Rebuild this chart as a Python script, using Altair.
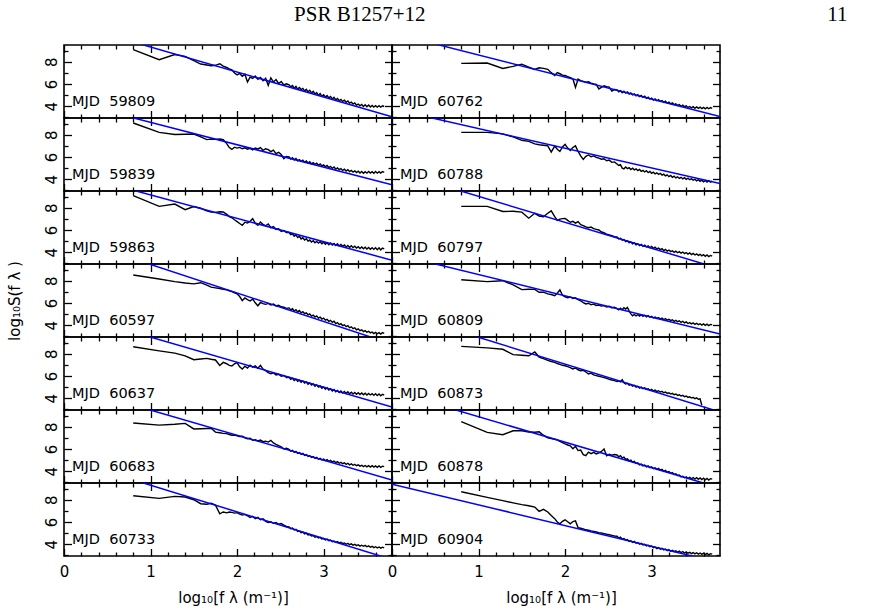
import altair as alt
import pandas as pd

# log10 of spatial frequency (m^-1) at which each spectrum is sampled
LOG_F = [
    0.80, 1.10, 1.28, 1.40, 1.50, 1.58, 1.65, 1.70, 1.75, 1.80, 1.84, 1.88, 1.91, 1.94, 1.97,
    2.00, 2.03, 2.06, 2.09, 2.12, 2.15, 2.18, 2.21, 2.24, 2.27, 2.30, 2.33, 2.36, 2.39, 2.42,
    2.45, 2.48, 2.51, 2.54, 2.57,
    2.60, 2.62, 2.64, 2.66, 2.68, 2.70, 2.72, 2.74, 2.76, 2.78, 2.80, 2.82, 2.84, 2.86, 2.88,
    2.90, 2.92, 2.94, 2.96, 2.98, 3.00, 3.02, 3.04, 3.06, 3.08, 3.10, 3.12, 3.14, 3.16, 3.18,
    3.20, 3.22, 3.24, 3.26, 3.28, 3.30, 3.32, 3.34, 3.36, 3.38, 3.40, 3.42, 3.44, 3.46, 3.48,
    3.50, 3.52, 3.54, 3.56, 3.58, 3.60, 3.62, 3.64, 3.66, 3.68, 3.70,
]

# log10 S(f_lambda) for each epoch
S_59809 = [
    9.08, 8.18, 8.65, 8.48, 8.10, 7.79, 7.70, 7.64, 7.68, 7.82, 7.60, 7.48, 7.36, 7.28, 6.98,
    6.82, 6.95, 6.70, 6.88, 6.18, 6.62, 6.50, 6.72, 6.42, 6.58, 6.30, 6.52, 5.88, 6.55, 6.18,
    6.40, 6.05, 6.22, 5.92, 6.02,
    5.92, 5.74, 5.86, 5.62, 5.78, 5.55, 5.68, 5.50, 5.60, 5.38, 5.52, 5.30, 5.44, 5.20, 5.34, 5.12,
    5.22, 5.00, 5.14, 4.90, 5.04, 4.84, 4.96, 4.76, 4.88, 4.66, 4.80, 4.58, 4.70, 4.50, 4.62, 4.44,
    4.54, 4.36, 4.48, 4.28, 4.38, 4.20, 4.30, 4.10, 4.20, 4.04, 4.16, 3.98, 4.14, 3.96, 4.12, 3.94,
    4.08, 3.94, 4.06, 3.92, 4.05, 3.92, 4.04, 3.98,
]
S_59839 = [
    9.05, 8.21, 8.02, 8.04, 8.06, 7.80, 7.56, 7.60, 7.58, 7.62, 7.55, 7.20, 6.85, 6.68, 6.88,
    6.80, 6.86, 6.74, 6.82, 6.70, 6.78, 6.64, 6.80, 6.72, 6.85, 6.60, 6.74, 6.66, 6.48, 6.62,
    6.30, 6.42, 6.22, 5.85, 6.05,
    6.00, 5.82, 5.94, 5.74, 5.86, 5.66, 5.76, 5.62, 5.72, 5.52, 5.64, 5.46, 5.58, 5.38, 5.50, 5.34,
    5.44, 5.26, 5.38, 5.20, 5.30, 5.12, 5.24, 5.06, 5.16, 4.98, 5.10, 4.92, 5.02, 4.86, 4.96, 4.80,
    4.90, 4.74, 4.86, 4.70, 4.80, 4.64, 4.76, 4.60, 4.72, 4.56, 4.70, 4.54, 4.68, 4.55, 4.70, 4.56,
    4.68, 4.54, 4.70, 4.55, 4.68, 4.56, 4.70, 4.62,
]
S_59863 = [
    9.08, 8.12, 8.33, 7.82, 8.10, 7.95, 7.72, 7.60, 7.58, 7.64, 7.62, 7.40, 7.20, 7.10, 6.92,
    6.75, 6.58, 6.42, 6.70, 6.62, 6.78, 7.02, 6.60, 6.42, 6.72, 6.50, 6.38, 6.55, 6.22, 6.30,
    6.05, 6.12, 5.88, 5.96, 5.78,
    5.78, 5.58, 5.66, 5.44, 5.56, 5.32, 5.44, 5.20, 5.30, 5.10, 5.22, 5.00, 5.10, 4.92, 5.04, 4.86,
    4.98, 4.82, 4.94, 4.76, 4.90, 4.72, 4.86, 4.68, 4.84, 4.66, 4.80, 4.62, 4.76, 4.58, 4.70, 4.54,
    4.66, 4.48, 4.62, 4.44, 4.58, 4.42, 4.54, 4.38, 4.50, 4.34, 4.48, 4.32, 4.46, 4.30, 4.44, 4.28,
    4.42, 4.26, 4.40, 4.24, 4.40, 4.22, 4.38, 4.30,
]
S_60597 = [
    8.51, 8.15, 7.92, 7.80, 7.72, 7.82, 7.60, 7.42, 7.36, 7.30, 7.22, 7.18, 7.10, 7.02, 6.92,
    6.82, 6.58, 6.22, 6.45, 6.30, 6.18, 6.35, 6.02, 5.75, 6.05, 5.95, 5.88, 5.96, 5.82, 5.90,
    5.74, 5.80, 5.66, 5.62, 5.52,
    5.56, 5.38, 5.48, 5.28, 5.40, 5.20, 5.32, 5.12, 5.22, 5.04, 5.12, 4.94, 5.02, 4.82, 4.92, 4.74,
    4.84, 4.64, 4.74, 4.56, 4.64, 4.46, 4.54, 4.36, 4.44, 4.26, 4.36, 4.16, 4.24, 4.06, 4.14, 3.96,
    4.04, 3.88, 3.96, 3.78, 3.86, 3.70, 3.78, 3.60, 3.68, 3.52, 3.60, 3.44, 3.52, 3.38, 3.46, 3.32,
    3.40, 3.26, 3.36, 3.24, 3.34, 3.22, 3.34, 3.28,
]
S_60637 = [
    8.63, 8.26, 8.05, 7.80, 7.46, 7.52, 7.58, 7.50, 7.44, 6.95, 7.22, 7.10, 6.96, 6.90, 7.10,
    7.20, 6.82, 6.62, 6.88, 6.72, 6.98, 6.80, 6.92, 6.70, 6.95, 6.62, 6.48, 6.30, 6.20, 6.28,
    6.10, 6.16, 5.98, 6.04, 5.86,
    5.88, 5.70, 5.80, 5.60, 5.72, 5.52, 5.62, 5.44, 5.56, 5.36, 5.46, 5.26, 5.38, 5.18, 5.28, 5.08,
    5.20, 5.00, 5.10, 4.90, 5.02, 4.82, 4.94, 4.74, 4.86, 4.66, 4.78, 4.58, 4.70, 4.52, 4.66, 4.48,
    4.62, 4.44, 4.58, 4.40, 4.54, 4.38, 4.52, 4.36, 4.50, 4.34, 4.48, 4.32, 4.46, 4.30, 4.44, 4.30,
    4.42, 4.26, 4.40, 4.24, 4.38, 4.22, 4.36, 4.28,
]
S_60683 = [
    8.33, 8.14, 8.22, 8.30, 7.80, 7.82, 7.84, 7.86, 7.52, 7.46, 7.40, 7.38, 7.30, 7.24, 7.26,
    7.18, 7.12, 7.14, 7.00, 6.92, 6.96, 6.78, 6.84, 6.72, 6.80, 6.66, 6.70, 6.62, 6.78, 6.55,
    6.42, 6.30, 6.20, 6.00, 6.06,
    5.96, 5.80, 5.88, 5.70, 5.78, 5.60, 5.68, 5.52, 5.60, 5.42, 5.50, 5.34, 5.40, 5.24, 5.32, 5.16,
    5.24, 5.08, 5.16, 5.02, 5.10, 4.96, 5.04, 4.90, 4.98, 4.84, 4.92, 4.78, 4.86, 4.72, 4.80, 4.68,
    4.76, 4.62, 4.72, 4.58, 4.66, 4.54, 4.62, 4.50, 4.58, 4.46, 4.54, 4.42, 4.52, 4.40, 4.50, 4.38,
    4.50, 4.38, 4.48, 4.36, 4.48, 4.36, 4.46, 4.42,
]
S_60733 = [
    8.36, 8.12, 8.30, 8.24, 8.00, 7.64, 7.60, 7.68, 7.52, 6.74, 6.90, 6.82, 6.90, 6.86, 6.80,
    6.84, 6.70, 6.62, 6.68, 6.56, 6.40, 6.50, 6.30, 6.42, 6.20, 6.28, 6.06, 5.96, 6.02, 5.88,
    5.96, 5.80, 5.86, 5.72, 5.60,
    5.56, 5.40, 5.46, 5.28, 5.34, 5.16, 5.20, 5.04, 5.10, 4.94, 5.00, 4.84, 4.88, 4.74, 4.78, 4.64,
    4.70, 4.56, 4.62, 4.48, 4.52, 4.40, 4.46, 4.32, 4.38, 4.24, 4.30, 4.18, 4.24, 4.12, 4.18, 4.06,
    4.12, 4.00, 4.08, 3.96, 4.04, 3.92, 4.00, 3.88, 3.96, 3.84, 3.92, 3.82, 3.90, 3.78, 3.86, 3.74,
    3.82, 3.70, 3.78, 3.68, 3.76, 3.66, 3.74, 3.68,
]
S_60762 = [
    7.85, 7.88, 7.40, 7.58, 7.78, 7.52, 7.30, 7.46, 7.40, 7.32, 7.02, 6.76, 7.02, 6.92, 6.80,
    6.76, 6.66, 6.56, 6.46, 5.70, 6.44, 6.30, 6.24, 6.16, 6.20, 6.08, 6.00, 5.96, 5.56, 5.70,
    5.84, 5.76, 5.72, 5.36, 5.50,
    5.48, 5.30, 5.40, 5.22, 5.36, 5.18, 5.28, 5.10, 5.20, 5.02, 5.12, 4.94, 5.04, 4.88, 4.98, 4.80,
    4.90, 4.72, 4.82, 4.64, 4.74, 4.56, 4.66, 4.50, 4.60, 4.44, 4.52, 4.36, 4.46, 4.28, 4.38, 4.22,
    4.30, 4.14, 4.22, 4.08, 4.16, 4.00, 4.10, 3.96, 4.04, 3.90, 3.98, 3.86, 3.96, 3.82, 3.94, 3.82,
    3.92, 3.80, 3.90, 3.78, 3.90, 3.78, 3.88, 3.82,
]
S_60788 = [
    8.21, 8.21, 8.08, 7.80, 7.50, 7.40, 7.18, 7.10, 7.06, 7.00, 6.44, 6.98, 6.70, 6.50, 6.90,
    7.14, 6.80, 6.58, 6.86, 7.00, 6.50, 6.10, 5.78, 6.06, 6.18, 6.02, 6.10, 5.96, 5.90, 5.80,
    5.84, 5.66, 5.72, 5.52, 5.56,
    5.38, 5.24, 5.32, 5.00, 4.94, 5.10, 4.96, 5.04, 4.88, 5.00, 4.84, 4.94, 4.78, 4.88, 4.72, 4.80,
    4.66, 4.78, 4.60, 4.70, 4.54, 4.64, 4.48, 4.58, 4.44, 4.54, 4.38, 4.46, 4.30, 4.40, 4.24, 4.34,
    4.18, 4.28, 4.12, 4.22, 4.08, 4.18, 4.04, 4.14, 4.00, 4.10, 3.96, 4.06, 3.92, 4.00, 3.86, 3.96,
    3.82, 3.92, 3.78, 3.90, 3.76, 3.88, 3.74, 3.84,
]
S_60797 = [
    8.12, 8.12, 7.66, 7.68, 7.60, 7.06, 7.50, 7.26, 7.18, 7.50, 7.72, 7.20, 6.86, 6.98, 7.02,
    7.04, 6.86, 6.70, 6.78, 6.62, 6.76, 6.48, 6.40, 6.28, 6.20, 6.26, 6.12, 6.06, 6.00, 5.82,
    5.76, 5.62, 5.56, 5.50, 5.40,
    5.38, 5.20, 5.26, 5.08, 5.14, 4.96, 5.02, 4.86, 4.92, 4.76, 4.84, 4.66, 4.76, 4.60, 4.70, 4.54,
    4.64, 4.48, 4.58, 4.42, 4.52, 4.36, 4.46, 4.30, 4.38, 4.24, 4.32, 4.16, 4.26, 4.10, 4.20, 4.06,
    4.14, 4.00, 4.10, 3.96, 4.06, 3.92, 4.02, 3.88, 3.98, 3.84, 3.94, 3.80, 3.90, 3.76, 3.86, 3.72,
    3.82, 3.68, 3.78, 3.64, 3.76, 3.62, 3.72, 3.66,
]
S_60809 = [
    8.09, 7.92, 8.00, 7.62, 7.20, 7.24, 7.22, 6.96, 6.98, 6.82, 6.76, 6.66, 6.88, 7.18, 6.70,
    6.56, 6.48, 6.54, 6.40, 6.46, 6.30, 6.20, 6.04, 5.92, 5.98, 5.84, 5.90, 5.78, 5.82, 5.72,
    5.76, 5.64, 5.70, 5.58, 5.62,
    5.50, 5.38, 5.54, 5.40, 5.58, 5.46, 5.60, 5.30, 5.02, 4.86, 4.98, 4.84, 4.96, 4.82, 4.94, 4.80,
    4.90, 4.76, 4.86, 4.72, 4.80, 4.66, 4.74, 4.62, 4.70, 4.56, 4.64, 4.52, 4.60, 4.46, 4.54, 4.42,
    4.50, 4.36, 4.44, 4.32, 4.40, 4.26, 4.36, 4.22, 4.30, 4.16, 4.24, 4.12, 4.22, 4.08, 4.18, 4.06,
    4.14, 4.02, 4.12, 4.00, 4.10, 3.98, 4.08, 4.04,
]
S_60873 = [
    8.66, 8.52, 8.40, 7.92, 7.86, 7.82, 8.16, 7.70, 7.56, 7.40, 7.30, 7.22, 7.12, 7.04, 6.96,
    6.92, 6.84, 6.76, 6.64, 6.72, 6.56, 6.48, 6.52, 6.36, 6.18, 6.26, 6.10, 6.04, 5.98, 5.92,
    5.86, 5.80, 5.70, 5.64, 5.58,
    5.50, 5.56, 5.48, 5.66, 5.40, 5.28, 5.34, 5.18, 5.24, 5.08, 5.16, 5.00, 5.08, 4.92, 5.00, 4.86,
    4.94, 4.80, 4.86, 4.72, 4.80, 4.66, 4.74, 4.60, 4.68, 4.56, 4.62, 4.50, 4.56, 4.44, 4.50, 4.38,
    4.44, 4.32, 4.38, 4.26, 4.32, 4.20, 4.26, 4.14, 4.20, 4.08, 4.14, 4.02, 4.08, 3.96, 4.04, 3.92,
    3.96, 3.38,
]
S_60878 = [
    8.45, 7.49, 7.28, 7.64, 7.64, 7.52, 7.50, 7.54, 7.24, 7.00, 6.94, 6.88, 6.82, 6.68, 6.58,
    6.46, 6.36, 6.28, 6.02, 6.24, 5.86, 5.90, 5.50, 5.40, 5.72, 5.58, 5.70, 5.56, 5.66, 5.78,
    6.00, 5.40, 5.52, 5.44, 5.50,
    5.46, 5.30, 5.40, 5.20, 5.28, 5.06, 5.12, 4.94, 5.00, 4.82, 4.90, 4.70, 4.76, 4.58, 4.64, 4.48,
    4.56, 4.40, 4.48, 4.32, 4.40, 4.24, 4.32, 4.18, 4.26, 4.10, 4.18, 4.00, 4.08, 3.92, 3.98, 3.82,
    3.88, 3.72, 3.78, 3.62, 3.66, 3.50, 3.56, 3.42, 3.50, 3.36, 3.46, 3.32, 3.44, 3.30, 3.42, 3.28,
    3.40, 3.26, 3.38, 3.24, 3.36, 3.22, 3.34, 3.30,
]
S_60904 = [
    8.71, 8.21, 7.92, 7.72, 7.56, 7.46, 7.34, 6.96, 7.14, 6.90, 6.58, 6.30, 6.00, 5.84, 6.06,
    6.20, 6.02, 5.84, 6.04, 6.10, 5.50, 5.44, 5.38, 5.30, 5.26, 5.20, 5.16, 5.10, 5.04, 5.02,
    4.96, 4.90, 4.86, 4.80, 4.74,
    4.72, 4.56, 4.64, 4.46, 4.52, 4.36, 4.42, 4.26, 4.32, 4.18, 4.26, 4.10, 4.16, 4.02, 4.08, 3.94,
    4.00, 3.86, 3.92, 3.78, 3.84, 3.70, 3.76, 3.62, 3.70, 3.56, 3.64, 3.50, 3.58, 3.44, 3.52, 3.38,
    3.46, 3.34, 3.42, 3.28, 3.38, 3.26, 3.34, 3.22, 3.32, 3.20, 3.28, 3.16, 3.26, 3.14, 3.24, 3.12,
    3.22, 3.10, 3.20, 3.08, 3.18, 3.06, 3.16, 3.12,
]

# panel order: left column top to bottom, then right column top to bottom
MJD = ["59809", "59839", "59863", "60597", "60637", "60683", "60733",
       "60762", "60788", "60797", "60809", "60873", "60878", "60904"]
SPECTRA = [S_59809, S_59839, S_59863, S_60597, S_60637, S_60683, S_60733,
           S_60762, S_60788, S_60797, S_60809, S_60873, S_60878, S_60904]

# power-law fit: log10 S = FIT_INTERCEPT + FIT_SLOPE * log10 f
FIT_SLOPE = [-2.24, -2.01, -2.10, -2.56, -2.25, -2.25, -2.39,
             -1.98, -1.77, -2.33, -1.91, -2.40, -2.29, -1.86]
FIT_INTERCEPT = [11.56, 11.12, 11.25, 12.02, 11.74, 11.74, 11.69,
                 10.58, 10.32, 11.35, 10.46, 11.87, 11.19, 9.40]

X_MAJOR = [0, 1, 2, 3]
X_MINOR = [0.2, 0.4, 0.6, 0.8, 1.2, 1.4, 1.6, 1.8, 2.2, 2.4, 2.6, 2.8, 3.2, 3.4, 3.6]
Y_MAJOR = [4, 6, 8]
Y_MINOR = [3, 5, 7, 9]

X_TITLE = "log\u2081\u2080[f \u03bb (m\u207b\u00b9)]"
Y_TITLE = "log\u2081\u2080S(f \u03bb )"
HEADER = ["PSR B1257+12", "11"]
HEADER_X = [361, 455]

X_MAX = 3.79
Y_MIN, Y_MAX = 2.95, 9.5
W, H = 328, 73
N_ROWS = 7
FONT = "DejaVu Sans"
MAJOR_LEN, MINOR_LEN = 7.5, 4


def inner_ticks(orient, values, length):
    # ticks pointing into the frame: an outward tick pulled in by its own length
    return alt.Axis(orient=orient, values=values, tickSize=length, offset=-length,
                    tickWidth=1.3, tickColor="black", labels=False, domain=False,
                    grid=False, title="")


def panel(row, col):
    k = col * N_ROWS + row
    spec = SPECTRA[k]
    df = pd.DataFrame({"x": LOG_F[:len(spec)], "y": spec})
    fit = pd.DataFrame({"x": [0.0, X_MAX],
                        "y": [FIT_INTERCEPT[k], FIT_INTERCEPT[k] + FIT_SLOPE[k] * X_MAX]})
    xs = alt.Scale(domain=[0, X_MAX], nice=False, zero=False)
    ys = alt.Scale(domain=[Y_MIN, Y_MAX], nice=False, zero=False)

    if row == N_ROWS - 1:
        xa = alt.Axis(orient="bottom", values=X_MAJOR, format="d", ticks=False, domain=False,
                      grid=False, labelFont=FONT, labelFontSize=15, labelPadding=8,
                      labelFlush=False, labelColor="black",
                      title=X_TITLE, titleFont=FONT, titleFontSize=15, titleFontWeight="normal",
                      titleColor="black", titleX=169, titleY=46.7, titleAlign="center",
                      titleBaseline="alphabetic")
    elif row == 0:
        xa = alt.Axis(orient="top", values=X_MAJOR, labels=False, ticks=False, domain=False,
                      grid=False, title=HEADER[col], titleFont="Liberation Serif",
                      titleFontSize=21, titleFontWeight="normal", titleColor="black",
                      titleX=HEADER_X[col], titleY=-24.4, titleAlign="right",
                      titleBaseline="alphabetic")
    else:
        xa = None

    if col == 0:
        ya = alt.Axis(orient="left", values=Y_MAJOR, format="d", labelAngle=270,
                      labelAlign="center", labelBaseline="alphabetic", ticks=False,
                      domain=False, grid=False, labelFont=FONT, labelFontSize=15,
                      labelPadding=8, labelColor="black",
                      title=Y_TITLE if row == 3 else "", titleFont=FONT, titleFontSize=15,
                      titleFontWeight="normal", titleColor="black", titleX=-50, titleY=36.5,
                      titleAngle=270, titleAlign="center", titleBaseline="middle")
    else:
        ya = None

    spectrum = alt.Chart(df).mark_line(color="black", strokeWidth=1.4, clip=True).encode(
        x=alt.X("x:Q", scale=xs, axis=xa), y=alt.Y("y:Q", scale=ys, axis=ya))
    model = alt.Chart(fit).mark_line(color="#0000ff", strokeWidth=1.5, clip=True).encode(
        x=alt.X("x:Q", scale=xs, axis=inner_ticks("bottom", X_MAJOR, MAJOR_LEN)),
        y=alt.Y("y:Q", scale=ys, axis=inner_ticks("left", Y_MAJOR, MAJOR_LEN)))
    minor_bl = alt.Chart(df).mark_line(strokeOpacity=0).encode(
        x=alt.X("x:Q", scale=xs, axis=inner_ticks("bottom", X_MINOR, MINOR_LEN)),
        y=alt.Y("y:Q", scale=ys, axis=inner_ticks("left", Y_MINOR, MINOR_LEN)))
    major_tr = alt.Chart(df).mark_line(strokeOpacity=0).encode(
        x=alt.X("x:Q", scale=xs, axis=inner_ticks("top", X_MAJOR, MAJOR_LEN)),
        y=alt.Y("y:Q", scale=ys, axis=inner_ticks("right", Y_MAJOR, MAJOR_LEN)))
    minor_tr = alt.Chart(df).mark_line(strokeOpacity=0).encode(
        x=alt.X("x:Q", scale=xs, axis=inner_ticks("top", X_MINOR, MINOR_LEN)),
        y=alt.Y("y:Q", scale=ys, axis=inner_ticks("right", Y_MINOR, MINOR_LEN)))
    label = alt.Chart(pd.DataFrame({"t": ["MJD\u00a0 " + MJD[k]]})).mark_text(
        align="left", baseline="alphabetic", font=FONT, fontSize=14.5, color="black"
    ).encode(x=alt.value(8), y=alt.value(61.3), text="t:N")

    return alt.layer(spectrum, model, minor_bl, major_tr, minor_tr, label).resolve_axis(
        x="independent", y="independent").properties(width=W, height=H)


# 7 x 2 grid of abutting panels, laid out row by row
panels = [panel(r, c) for r in range(N_ROWS) for c in range(2)]

chart = alt.concat(*panels, columns=2, spacing=0, bounds="flush").properties(
    padding={"left": 6, "top": 2, "right": 5, "bottom": 5},
    background="white",
).configure_view(stroke="black", strokeWidth=1.6).configure_axis(grid=False)

chart.save("out.html", embed_options={"renderer": "svg", "actions": False})
